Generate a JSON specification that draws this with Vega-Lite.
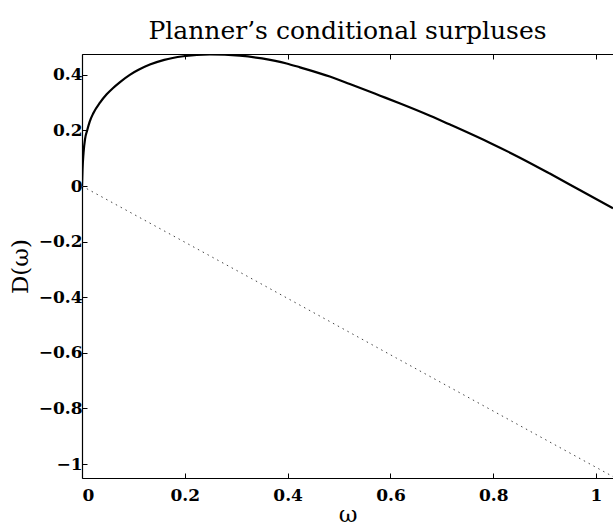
{
  "$schema": "https://vega.github.io/schema/vega-lite/v6.json",
  "autosize": "none",
  "width": 531,
  "height": 424,
  "padding": {"left": 82, "top": 54, "right": 0, "bottom": 49},
  "background": "white",
  "title": {
    "text": "Planner’s conditional surpluses",
    "font": "DejaVu Serif",
    "fontSize": 25,
    "fontWeight": "normal",
    "color": "black",
    "offset": 10
  },
  "config": {
    "view": {"stroke": null},
    "axis": {
      "domainColor": "black",
      "domainWidth": 1.2,
      "tickColor": "black",
      "tickWidth": 1,
      "grid": false,
      "labelFont": "DejaVu Serif",
      "labelFontWeight": "bold",
      "labelFontSize": 17,
      "labelColor": "black",
      "titleFont": "DejaVu Serif",
      "titleFontWeight": "normal",
      "titleFontSize": 23,
      "titleColor": "black"
    }
  },
  "datasets": {
    "surplus": [
      {"w": 0, "d": 0},
      {"w": 0.001, "d": 0.06},
      {"w": 0.003, "d": 0.12},
      {"w": 0.006, "d": 0.17},
      {"w": 0.01, "d": 0.2},
      {"w": 0.015, "d": 0.232},
      {"w": 0.022, "d": 0.262},
      {"w": 0.035, "d": 0.3},
      {"w": 0.048, "d": 0.33},
      {"w": 0.06, "d": 0.352},
      {"w": 0.074, "d": 0.374},
      {"w": 0.093, "d": 0.4},
      {"w": 0.11, "d": 0.418},
      {"w": 0.132, "d": 0.437},
      {"w": 0.16, "d": 0.454},
      {"w": 0.197, "d": 0.467},
      {"w": 0.249, "d": 0.474},
      {"w": 0.307, "d": 0.469},
      {"w": 0.35, "d": 0.459},
      {"w": 0.398, "d": 0.441},
      {"w": 0.424, "d": 0.427},
      {"w": 0.482, "d": 0.394},
      {"w": 0.521, "d": 0.367},
      {"w": 0.58, "d": 0.325},
      {"w": 0.619, "d": 0.297},
      {"w": 0.677, "d": 0.253},
      {"w": 0.716, "d": 0.221},
      {"w": 0.794, "d": 0.155},
      {"w": 0.85, "d": 0.104},
      {"w": 0.91, "d": 0.045},
      {"w": 0.97, "d": -0.016},
      {"w": 1.033, "d": -0.08}
    ],
    "reference": [
      {"w": 0, "d": 0},
      {"w": 0.333, "d": -0.336},
      {"w": 0.612, "d": -0.619},
      {"w": 1.033, "d": -1.045}
    ]
  },
  "layer": [
    {
      "data": {"name": "reference"},
      "mark": {"type": "line", "color": "#444444", "strokeWidth": 1, "strokeDash": [1.5, 4], "clip": true},
      "encoding": {
        "x": {"field": "w", "type": "quantitative", "scale": {"domain": [0, 1.033], "nice": false, "zero": false},
          "axis": {"orient": "bottom", "title": "ω", "values": [0, 0.2, 0.4, 0.6, 0.8, 1], "format": ".1~f", "tickSize": -5, "labelPadding": 14, "titlePadding": 0}},
        "y": {"field": "d", "type": "quantitative", "scale": {"domain": [-1.05, 0.475], "nice": false, "zero": false},
          "axis": {"orient": "left", "title": "D(ω)", "values": [-1, -0.8, -0.6, -0.4, -0.2, 0, 0.2, 0.4], "format": ".1~f", "tickSize": -5, "labelPadding": 5, "titlePadding": 6}}
      }
    },
    {
      "data": {"name": "surplus"},
      "mark": {"type": "line", "color": "black", "strokeWidth": 2.2, "interpolate": "monotone", "clip": true},
      "encoding": {
        "x": {"field": "w", "type": "quantitative",
          "axis": {"orient": "top", "title": null, "labels": false, "values": [0, 0.2, 0.4, 0.6, 0.8, 1], "tickSize": -5}},
        "y": {"field": "d", "type": "quantitative"}
      }
    }
  ],
  "resolve": {"axis": {"x": "independent"}}
}
